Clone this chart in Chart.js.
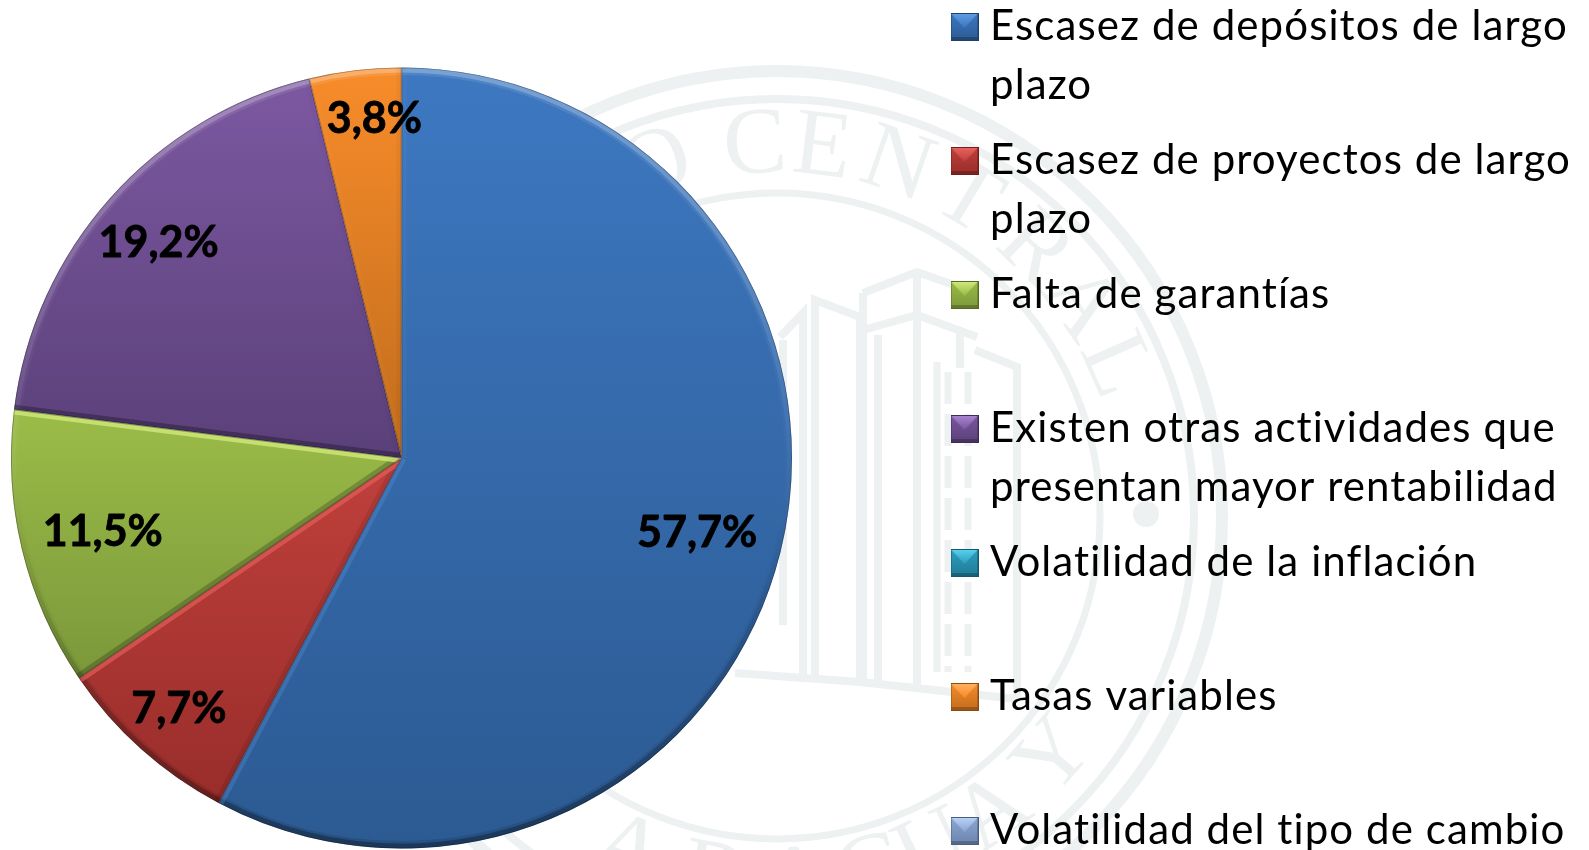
<!DOCTYPE html>
<html><head><meta charset="utf-8">
<style>html,body{margin:0;padding:0;background:#fff;overflow:hidden;width:1589px;height:850px}#box{position:relative;width:1589px;height:960px}</style>
<script src="https://cdn.jsdelivr.net/npm/chart.js@4"></script>
</head><body><div id="box"><canvas id="c"></canvas></div>
<script>
const categories = [
  ["Escasez de depósitos de largo","plazo"],
  ["Escasez de proyectos de largo","plazo"],
  ["Falta de garantías",""],
  ["Existen otras actividades que","presentan mayor rentabilidad"],
  ["Volatilidad de la inflación",""],
  ["Tasas variables",""],
  ["Volatilidad del tipo de cambio",""]
];
const values = [57.7, 7.7, 11.5, 19.2, 0, 3.8, 0];
const valueLabels = ["57,7%","7,7%","11,5%","19,2%","","3,8%",""];
const labelRadius = [0.78, 0.855, 0.787, 0.833, 0, 0.875, 0];
const labelTurn = [0, 0, 0, 0, 0, 2.3, 0];
const topColors    = ["#3d78c1","#c0403c","#9bbc48","#7c58a1","#2f9fbf","#f88c2a","#8fa8d2"];
const bottomColors = ["#2c5a92","#982d2a","#7b983a","#5a4079","#1f7b96","#c06c1d","#6a84ae"];
const lightColors  = ["#5f9ce2","#e8625c","#cfe87a","#a884d0","#58cfee","#ffb060","#b8d0f4"];
const edgeColors   = ["#1f4068","#6e1f1d","#566c24","#3e2b58","#14586c","#8a4c12","#4a5e80"];
const watermarkRings = [[445,12],[417,8],[323,7]];
const watermarkText = [["O",-19],["C",-3.4],["E",7],["N",19],["T",31],["R",44],["A",55],["L",66],
                       ["Y",131],["A",144],["U",155],["G",165],["A",177],["R",190],["A",204]];
const towerLines = [
  [[780,337],[803,313],[803,678]],
  [[815,678],[815,300],[860,317],[860,680]],
  [[863,293],[917,272],[977,293]],[[863,330],[917,315],[977,337]],
  [[863,293],[863,682]],[[878,335],[878,684]],[[917,272],[917,686]],
  [[960,330],[960,368]],[[975,350],[1017,367],[1017,698]],[[783,340],[783,625]],
  [[735,673],[860,682],[1017,699]]
];

function sliceBand(i){
  const total = values.reduce((a,b)=>a+b,0);
  let s = 0; for(let k=0;k<i;k++) s += values[k];
  const a0 = s/total*2*Math.PI - Math.PI/2, a1 = (s+values[i])/total*2*Math.PI - Math.PI/2;
  const ys=[0,Math.sin(a0),Math.sin(a1)];
  for(const q of [-Math.PI/2,Math.PI/2,3*Math.PI/2]) if(q>a0&&q<a1) ys.push(Math.sin(q));
  return [Math.min(...ys),Math.max(...ys)];
}
function fillFor(ctx){
  const chart=ctx.chart, i=ctx.dataIndex, a=chart.chartArea;
  if(!a) return topColors[i];
  const r=Math.min(a.width,a.height)/2, cy=(a.top+a.bottom)/2, [b0,b1]=sliceBand(i);
  const g=chart.ctx.createLinearGradient(0,cy+b0*r,0,cy+b1*r);
  g.addColorStop(0,topColors[i]); g.addColorStop(1,bottomColors[i]);
  return g;
}
function swatch(i){
  const n=28,c=document.createElement('canvas'); c.width=n;c.height=n+2;
  const x=c.getContext('2d');
  x.translate(0,2);
  let g=x.createLinearGradient(0,0,0,n); g.addColorStop(0,topColors[i]); g.addColorStop(1,bottomColors[i]);
  x.fillStyle=g; x.fillRect(0,0,n,n);
  g=x.createLinearGradient(0,1,0,n/2); g.addColorStop(0,lightColors[i]); g.addColorStop(1,topColors[i]);
  x.fillStyle=g; x.beginPath(); x.moveTo(1,1); x.lineTo(n-1,1); x.lineTo(n/2,n/2+1); x.closePath(); x.fill();
  x.fillStyle='rgba(0,0,0,.22)'; x.fillRect(1,n-4,n-2,3);
  x.strokeStyle=edgeColors[i]; x.lineWidth=1; x.strokeRect(.5,.5,n-1,n-1);
  return c;
}
const sealPlugin={id:'seal',beforeDraw(chart){
  const x=chart.ctx,cx=777,cy=516; x.save();
  x.letterSpacing='0px';
  x.strokeStyle='#edf1f1'; x.fillStyle='#edf1f1'; x.lineJoin='miter';
  for(const [r,w] of watermarkRings){x.lineWidth=w;x.beginPath();x.arc(cx,cy,r,0,2*Math.PI);x.stroke();}
  x.beginPath();x.arc(1146,514,13,0,2*Math.PI);x.fill();
  x.font='95px "Liberation Serif"';x.textAlign='center';x.textBaseline='middle';
  for(const [t,d] of watermarkText){
    const a=d*Math.PI/180; x.save();
    x.translate(cx+369*Math.sin(a),cy-369*Math.cos(a));
    x.rotate(d>90?a-Math.PI:a); x.fillText(t,0,0); x.restore();
  }
  x.lineWidth=8;
  for(const l of towerLines){x.beginPath();l.forEach((p,k)=>k?x.lineTo(p[0],p[1]):x.moveTo(p[0],p[1]));x.stroke();}
  x.lineWidth=7;x.beginPath();x.moveTo(937,362);x.lineTo(937,672);x.stroke();
  x.setLineDash([32,10]);x.lineWidth=7;x.beginPath();x.moveTo(948,372);x.lineTo(948,672);x.moveTo(968,372);x.lineTo(968,672);x.stroke();x.setLineDash([]);
  x.restore();
  x.letterSpacing='1.1px';
}};
const bevelPlugin={id:'bevel',afterDatasetsDraw(chart){
  const x=chart.ctx, queue=[];
  chart.getDatasetMeta(0).data.forEach((el,i)=>{
    if(!values[i]) return;
    const {x:cx,y:cy,startAngle:a0,endAngle:a1,outerRadius:r}=el.getProps(['x','y','startAngle','endAngle','outerRadius'],true);
    x.save();
    x.beginPath();x.moveTo(cx,cy);x.arc(cx,cy,r,a0,a1);x.closePath();x.clip();
    const g=x.createLinearGradient(0,cy-r,0,cy+r);
    g.addColorStop(0,'rgba(255,255,255,.24)');g.addColorStop(.5,'rgba(255,255,255,.03)');g.addColorStop(.62,'rgba(0,0,0,.04)');g.addColorStop(1,'rgba(0,0,0,.30)');
    x.strokeStyle=g;
    x.lineWidth=5;x.beginPath();x.arc(cx,cy,r-2.5,a0,a1);x.stroke();
    x.lineWidth=10;x.globalAlpha=.4;x.beginPath();x.arc(cx,cy,r-2.5,a0,a1);x.stroke();x.globalAlpha=1;
    const edge=(a,sign)=>{
      const nx=-Math.sin(a)*sign, ny=Math.cos(a)*sign, s=ny*Math.abs(ny)+.12*nx;
      x.strokeStyle=s>0?lightColors[i]:'#000';
      x.globalAlpha=s>0?Math.min(.85,s*.85):Math.min(.28,-s*.28);
      x.lineWidth=10;x.beginPath();x.moveTo(cx,cy);x.lineTo(cx+r*Math.cos(a),cy+r*Math.sin(a));x.stroke();
      x.globalAlpha=1;
    };
    edge(a0,1);edge(a1,-1);
    x.strokeStyle='rgba(20,20,30,.35)';x.lineWidth=1.6;
    x.beginPath();x.moveTo(cx,cy);x.arc(cx,cy,r,a0,a1);x.closePath();x.stroke();
    x.restore();
    const m=(a0+a1)/2+labelTurn[i]*Math.PI/180,q=r*labelRadius[i];
    queue.push([valueLabels[i],cx+q*Math.cos(m),cy+q*Math.sin(m)+2]);
  });
  x.save();x.letterSpacing='0px';x.fillStyle='#000';x.strokeStyle='#000';x.lineWidth=.8;x.lineJoin='round';x.font='700 43px Lato';x.textAlign='center';x.textBaseline='middle';
  queue.forEach(l=>{x.fillText(l[0],l[1],l[2]);x.strokeText(l[0],l[1],l[2]);});x.restore();
}};
const placePlugin={id:'place',afterLayout(chart){
  const a=chart.chartArea;a.left=11;a.right=792;a.top=67;a.bottom=849;a.width=781;a.height=782;
  const l=chart.legend;l.left=944;l.top=-11;
}};
new Chart(document.getElementById('c'),{
  type:'pie',
  data:{labels:categories,datasets:[{data:values,backgroundColor:fillFor,borderWidth:0}]},
  plugins:[sealPlugin,bevelPlugin,placePlugin],
  options:{
    responsive:true,maintainAspectRatio:false,animation:false,
    layout:{padding:0},
    plugins:{
      tooltip:{enabled:false},
      legend:{position:'right',align:'start',
        labels:{
          padding:16,boxWidth:9,usePointStyle:true,color:'#000',
          font:{family:'Lato',size:42,lineHeight:59/42},
          generateLabels:()=>categories.map((t,i)=>({text:t,pointStyle:swatch(i),fillStyle:topColors[i],strokeStyle:edgeColors[i],lineWidth:0,index:i,hidden:false}))
        }}
    }
  }
});
</script></body></html>
